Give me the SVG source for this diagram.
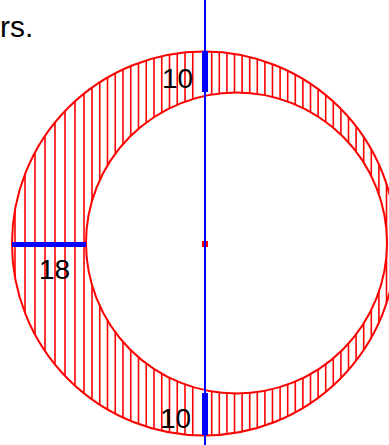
<svg xmlns="http://www.w3.org/2000/svg" width="389" height="445" viewBox="0 0 389 445">
<style>
.circ{fill:none;stroke:#ff0000;stroke-width:2}
.hatch{fill:none;stroke:#ff0000;stroke-width:1.6}
.bar{fill:#0000ff}
.axis{stroke:#0000ff;stroke-width:2}
.lbl{font-family:"Liberation Sans",Arial,sans-serif;font-size:28px;fill:#000}
</style>
<defs>
<clipPath id="ring">
<path clip-rule="evenodd" d="M12 243.5a192 192 0 1 0 384 0a192 192 0 1 0 -384 0ZM86 243a150.5 150.5 0 1 0 301 0a150.5 150.5 0 1 0 -301 0Z"/>
</clipPath>
</defs>
<rect width="389" height="445" fill="#ffffff"/>
<text class="lbl" x="0" y="37" style="font-size:30px">rs.</text>
<g id="hatching" clip-path="url(#ring)">
<path class="hatch" d="M15 0V445M25 0V445M35 0V445M45 0V445M55 0V445M65 0V445M75 0V445M84 0V445M92 0V445M99.75 0V445M107.5 0V445M115.25 0V445M123 0V445M130.75 0V445M138.5 0V445M146.25 0V445M154 0V445M161.75 0V445M169.5 0V445M177.25 0V445M185 0V445M192.75 0V445M211.7 0V445M219.3 0V445M226.9 0V445M234.5 0V445M242.1 0V445M249.7 0V445M257.3 0V445M264.9 0V445M272.5 0V445M280.1 0V445M287.7 0V445M295.3 0V445M302.9 0V445M310.5 0V445M318.1 0V445M325.7 0V445M333.3 0V445M340.9 0V445M348.5 0V445M356.1 0V445M363.7 0V445M371.3 0V445M378.9 0V445M386.5 0V445"/>
</g>
<g id="outer-circle"><circle class="circ" cx="204" cy="243.5" r="192"/></g>
<g id="inner-circle"><circle class="circ" cx="236.5" cy="243" r="150.5"/></g>
<g id="connectors">
<line class="axis" x1="205" y1="0" x2="205" y2="445"/>
</g>
<g id="center"><rect x="202" y="241" width="6" height="6" fill="#ff0000"/><line class="axis" x1="205" y1="238" x2="205" y2="250"/></g>
<g id="dim-top"><rect class="bar" x="202" y="51" width="6" height="41"/><text class="lbl" x="162" y="88">10</text></g>
<g id="dim-bottom"><rect class="bar" x="202" y="393" width="6" height="42"/><text class="lbl" x="160" y="428">10</text></g>
<g id="dim-left"><rect class="bar" x="12" y="242" width="74" height="5"/><text class="lbl" x="39" y="279">18</text></g>
</svg>
